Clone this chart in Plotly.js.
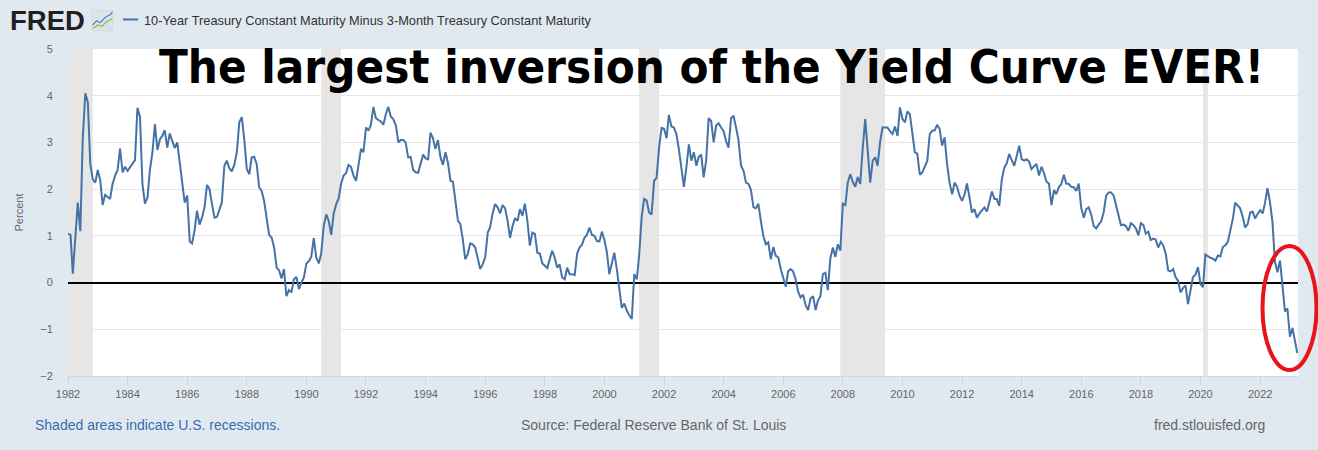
<!DOCTYPE html>
<html>
<head>
<meta charset="utf-8">
<script src="https://cdn.plot.ly/plotly-3.0.1.min.js"></script>
<style>
html,body{margin:0;padding:0;background:#e1e9f0;}
#chart{width:1318px;height:450px;}
</style>
</head>
<body>
<div id="chart"></div>
<script>
// Monthly spread (10Y minus 3M), percent, starting January 1982
const startYear = 1982;
const spread1982_1987 = [
  1.05, 1.02, 0.19, 0.9, 1.71, 1.1, 3.1, 4.05, 3.86, 2.54, 2.21, 2.14,
  2.41, 2.18, 1.66, 1.88, 1.84, 1.79, 2.11, 2.29, 2.41, 2.87, 2.36, 2.48,
  2.39, 2.47, 2.54, 2.62, 3.74, 3.55, 2.11, 1.69, 1.82, 2.41, 2.79, 3.39,
  2.84, 3.07, 3.14, 3.26, 2.89, 3.19, 3.04, 2.88, 3.0, 2.54, 2.18, 1.71,
  1.86, 0.88, 0.84, 1.11, 1.54, 1.24, 1.39, 1.61, 2.09, 2.0, 1.68, 1.39,
  1.41, 1.57, 1.71, 2.5, 2.61, 2.45, 2.38, 2.52, 2.79, 3.43, 3.54, 3.07
];
const spread1988_1993 = [
  2.43, 2.32, 2.68, 2.69, 2.54, 2.04, 1.96, 1.74, 1.39, 1.02, 0.96, 0.75,
  0.32, 0.26, 0.09, 0.29, -0.29, -0.16, -0.21, 0.07, 0.12, -0.14, 0.0, 0.11,
  0.41, 0.46, 0.55, 0.95, 0.54, 0.41, 0.62, 1.21, 1.46, 1.32, 1.02, 1.48,
  1.68, 1.81, 2.11, 2.29, 2.34, 2.52, 2.48, 2.29, 2.18, 2.54, 2.86, 2.79,
  3.32, 3.25, 3.38, 3.76, 3.52, 3.48, 3.45, 3.38, 3.61, 3.76, 3.55, 3.5,
  3.36, 3.0, 3.05, 3.05, 3.0, 2.68, 2.69, 2.41, 2.36, 2.35, 2.55, 2.74
];
const spread1994_1999 = [
  2.66, 2.64, 3.21, 3.09, 2.86, 3.05, 2.69, 2.52, 2.79, 2.57, 2.18, 2.16,
  1.75, 1.32, 1.26, 0.93, 0.5, 0.61, 0.84, 0.82, 0.75, 0.54, 0.29, 0.39,
  0.54, 1.07, 1.18, 1.48, 1.68, 1.61, 1.48, 1.66, 1.59, 1.32, 0.96, 1.21,
  1.38, 1.32, 1.57, 1.43, 1.69, 1.32, 0.79, 1.07, 1.04, 0.64, 0.62, 0.41,
  0.36, 0.31, 0.5, 0.68, 0.54, 0.32, 0.39, 0.11, 0.07, 0.32, 0.18, 0.18,
  0.16, 0.62, 0.75, 0.81, 0.96, 1.02, 1.18, 1.02, 1.0, 0.89, 0.88, 1.09
];
const spread2000_2005 = [
  0.91, 0.64, 0.18, 0.43, 0.64, 0.29, -0.11, -0.54, -0.45, -0.6, -0.7, -0.78,
  0.18, 0.07, 0.57, 1.39, 1.79, 1.76, 1.5, 1.46, 2.18, 2.24, 2.89, 3.31,
  3.29, 3.09, 3.59, 3.34, 3.32, 3.18, 2.86, 2.5, 2.05, 2.46, 2.96, 2.61,
  2.79, 2.5, 2.69, 2.74, 2.25, 2.61, 3.52, 3.46, 3.0, 3.36, 3.41, 3.32,
  3.24, 3.02, 2.89, 3.52, 3.57, 3.32, 3.05, 2.5, 2.39, 2.14, 2.11, 1.98,
  1.61, 1.59, 1.69, 1.32, 1.0, 0.82, 0.86, 0.5, 0.76, 0.57, 0.54, 0.29
];
const spread2006_2011 = [
  0.07, -0.09, 0.24, 0.29, 0.24, 0.07, -0.19, -0.32, -0.26, -0.48, -0.59, -0.34,
  -0.29, -0.59, -0.39, -0.29, 0.18, 0.21, -0.16, 0.52, 0.75, 0.55, 0.82, 0.68,
  1.69, 1.66, 2.14, 2.32, 2.16, 2.05, 2.26, 2.11, 2.89, 3.5, 2.82, 2.14,
  2.61, 2.68, 2.5, 3.0, 3.32, 3.32, 3.32, 3.24, 3.18, 3.34, 3.14, 3.75,
  3.5, 3.43, 3.66, 3.61, 3.18, 2.79, 2.76, 2.31, 2.36, 2.48, 2.61, 3.18,
  3.25, 3.26, 3.38, 3.29, 2.93, 3.11, 2.54, 2.14, 1.89, 2.14, 2.05, 1.86
];
const spread2012_2017 = [
  1.75, 1.89, 2.12, 1.82, 1.5, 1.57, 1.39, 1.48, 1.55, 1.61, 1.52, 1.71,
  1.95, 1.79, 1.79, 1.64, 2.19, 2.46, 2.55, 2.75, 2.62, 2.5, 2.71, 2.93,
  2.64, 2.61, 2.64, 2.59, 2.43, 2.48, 2.54, 2.29, 2.48, 2.34, 2.16, 2.12,
  1.66, 1.98, 1.89, 2.04, 2.11, 2.31, 2.12, 2.11, 2.05, 2.04, 1.96, 2.12,
  1.59, 1.39, 1.57, 1.61, 1.46, 1.21, 1.16, 1.24, 1.31, 1.5, 1.86, 1.93,
  1.93, 1.86, 1.66, 1.5, 1.23, 1.24, 1.21, 1.11, 1.27, 1.23, 1.16, 1.01
];
const spread2018_2023 = [
  1.27, 1.23, 1.05, 1.09, 0.91, 0.94, 0.92, 0.75, 0.87, 0.8, 0.62, 0.26,
  0.24, 0.29, 0.12, 0.04, -0.21, -0.12, -0.06, -0.46, -0.17, 0.12, 0.17, 0.33,
  -0.03, -0.1, 0.6, 0.56, 0.53, 0.51, 0.47, 0.58, 0.56, 0.76, 0.8, 0.87,
  1.09, 1.37, 1.71, 1.66, 1.59, 1.41, 1.18, 1.25, 1.5, 1.52, 1.37, 1.47,
  1.55, 1.48, 1.70, 2.02, 1.73, 1.3, 0.45, 0.22, 0.47, -0.05, -0.62, -0.55,
  -1.16, -0.97, -1.25, -1.51
];
const recessionStarts = ['1982-01-01', '1990-07-01', '2001-03-01', '2007-12-01', '2020-02-01'];
const recessionEnds   = ['1982-11-01', '1991-03-01', '2001-11-01', '2009-06-01', '2020-04-01'];
const seriesName = '10-Year Treasury Constant Maturity Minus 3-Month Treasury Constant Maturity';
const chartTitle = 'The largest inversion of the Yield Curve EVER!';
const yTickVals = [-2, -1, 0, 1, 2, 3, 4, 5];

const values = [].concat(spread1982_1987, spread1988_1993, spread1994_1999,
  spread2000_2005, spread2006_2011, spread2012_2017, spread2018_2023);
const dates = values.map((v, i) => {
  const y = startYear + Math.floor(i / 12);
  const m = (i % 12) + 1;
  return y + '-' + (m < 10 ? '0' + m : m) + '-01';
});

// pixel -> paper helpers
const L = 68, T = 49, W = 1230, H = 327;
const fx = px => (px - L) / W;
const fy = py => (T + H - py) / H;
const pathFrom = pts => pts.map((p, i) => (i ? 'L' : 'M') + fx(p[0]).toFixed(5) + ',' + fy(p[1]).toFixed(5)).join(' ');

const shapes = recessionStarts.map((s, i) => ({
  type: 'rect', xref: 'x', yref: 'paper', x0: s, x1: recessionEnds[i], y0: 0, y1: 1,
  fillcolor: '#e6e6e6', line: {width: 0}, layer: 'below'
}));
// logo icon
shapes.push({type: 'rect', xref: 'paper', yref: 'paper', x0: fx(92), x1: fx(113), y0: fy(31), y1: fy(10),
  fillcolor: '#dde2e8', line: {color: '#cdd3da', width: 0.5}});
shapes.push({type: 'path', xref: 'paper', yref: 'paper',
  path: pathFrom([[93, 28.5], [98, 25], [101.7, 26.3], [106.7, 21.7], [112.5, 18.5]]),
  line: {color: '#8fbf45', width: 1.3}});
shapes.push({type: 'path', xref: 'paper', yref: 'paper',
  path: pathFrom([[92.5, 25], [96.7, 20.7], [100, 22.7], [106, 16.7], [110, 15], [112.5, 12]]),
  line: {color: '#4d8ac9', width: 1.3}});
// legend line sample
shapes.push({type: 'line', xref: 'paper', yref: 'paper', x0: fx(123), x1: fx(138), y0: fy(19.5), y1: fy(19.5),
  line: {color: '#4572a7', width: 2}});
// red ellipse
shapes.push({type: 'circle', xref: 'paper', yref: 'paper', x0: fx(1262.5), x1: fx(1316.5), y0: fy(370), y1: fy(246),
  line: {color: '#e8141c', width: 4}});

const annotations = [
  {text: '<b>FRED</b>', xref: 'paper', yref: 'paper', x: fx(8), y: fy(21), xanchor: 'left', yanchor: 'middle',
   showarrow: false, font: {family: 'Liberation Sans, Arial, sans-serif', size: 27.5, color: '#231f20'}},
  {text: seriesName, xref: 'paper', yref: 'paper', x: fx(142), y: fy(20), xanchor: 'left', yanchor: 'middle',
   showarrow: false, font: {family: 'Liberation Sans, Arial, sans-serif', size: 12.8, color: '#333333'}},
  {text: '<b>' + chartTitle + '</b>', xref: 'paper', yref: 'paper', x: fx(711.5), y: fy(66), xanchor: 'center', yanchor: 'middle',
   showarrow: false, font: {family: 'DejaVu Sans Condensed, DejaVu Sans, sans-serif', size: 47, color: '#000000'}},
  {text: 'Shaded areas indicate U.S. recessions.', xref: 'paper', yref: 'paper', x: fx(33), y: fy(425), xanchor: 'left', yanchor: 'middle',
   showarrow: false, font: {family: 'Liberation Sans, Arial, sans-serif', size: 14, color: '#3a6ab0'}},
  {text: 'Source: Federal Reserve Bank of St. Louis', xref: 'paper', yref: 'paper', x: fx(653.5), y: fy(425), xanchor: 'center', yanchor: 'middle',
   showarrow: false, font: {family: 'Liberation Sans, Arial, sans-serif', size: 14, color: '#666666'}},
  {text: 'fred.stlouisfed.org', xref: 'paper', yref: 'paper', x: fx(1267), y: fy(425), xanchor: 'right', yanchor: 'middle',
   showarrow: false, font: {family: 'Liberation Sans, Arial, sans-serif', size: 14, color: '#666666'}}
];

const trace = {
  x: dates, y: values, type: 'scatter', mode: 'lines', name: seriesName,
  line: {color: '#4572a7', width: 2}, hoverinfo: 'skip'
};

const layout = {
  width: 1318, height: 450,
  margin: {l: L, r: 1318 - L - W, t: T, b: 450 - T - H, pad: 0},
  paper_bgcolor: '#e1e9f0', plot_bgcolor: '#ffffff',
  showlegend: false,
  font: {family: 'Liberation Sans, Arial, sans-serif', size: 11, color: '#666666'},
  xaxis: {
    type: 'date', range: ['1982-01-01', '2023-04-10'],
    tick0: '1982-01-01', dtick: 'M24', tickformat: '%Y',
    showgrid: false, zeroline: false,
    showline: true, linecolor: '#ccd6eb', linewidth: 1,
    ticks: 'outside', ticklen: 8, tickcolor: '#ccd6eb', tickwidth: 1,
    tickfont: {size: 11, color: '#666666'}, fixedrange: true
  },
  yaxis: {
    range: [-2, 5], tickmode: 'array', tickvals: yTickVals,
    showgrid: true, gridcolor: '#e6e6e6', gridwidth: 1,
    zeroline: true, zerolinecolor: '#000000', zerolinewidth: 2,
    showline: false,
    ticks: 'outside', ticklen: 12, tickcolor: 'rgba(0,0,0,0)',
    tickfont: {size: 11, color: '#666666'},
    title: {text: 'Percent', font: {size: 11, color: '#666666'}, standoff: 14},
    fixedrange: true
  },
  shapes: shapes,
  annotations: annotations
};

Plotly.newPlot('chart', [trace], layout, {displayModeBar: false, staticPlot: true});
</script>
</body>
</html>
